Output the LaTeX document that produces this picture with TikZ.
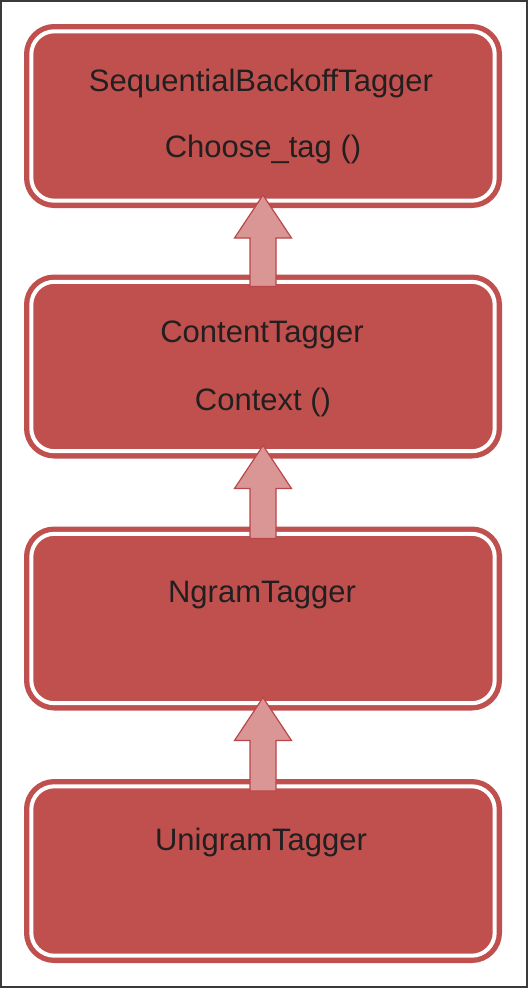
\documentclass[tikz,border=0pt]{standalone}
\usepackage{fontspec}
\setmainfont{Liberation Sans}
\usetikzlibrary{calc}
\definecolor{boxred}{HTML}{C0504D}
\definecolor{arrowpink}{HTML}{D99694}
\definecolor{arrowline}{HTML}{B9474A}
\definecolor{txt}{HTML}{231F20}
\definecolor{frame}{HTML}{3A3A3A}
\tikzset{
  box/.style={rectangle, rounded corners=23pt, fill=boxred, draw=white,
    line width=4pt, minimum width=463.4pt, minimum height=169.4pt,
    outer sep=7.3pt, inner sep=0pt,
    preaction={draw=boxred, line width=14.6pt}},
  label/.style={anchor=base, text=txt, inner sep=0pt,
    font=\fontsize{31}{37}\selectfont},
  fatarrow/.style={fill=arrowpink, draw=arrowline, line width=1.2pt, line join=miter}
}
\begin{document}
\begin{tikzpicture}[x=1pt, y=-1pt]
\useasboundingbox (0,0) rectangle (528,988);
\draw[frame, line width=1.5pt] (1,1) rectangle (527,987);
\node[box] (b1) at (263,116) {};
\node[box] (b2) at (263,366.5) {};
\node[box] (b3) at (263,618.5) {};
\node[box] (b4) at (263,871) {};
\node[label] (t1a) at (261,91) {SequentialBackoffTagger};
\node[label] (t1b) at (263,157) {Choose\_tag ()};
\node[label] (t2a) at (262,342) {ContentTagger};
\node[label] (t2b) at (263,410) {Context ()};
\node[label] (t3a) at (262,602) {NgramTagger};
\node[label] (t4a) at (261,850) {UnigramTagger};
\foreach \lo/\hi in {b2/b1, b3/b2, b4/b3}{
  \draw[fatarrow] ($(\lo.north)+(-13,12)$) -- ($(\hi.south)+(-13,30)$)
    -- ($(\hi.south)+(-28.5,30)$) -- ($(\hi.south)+(0,-13)$)
    -- ($(\hi.south)+(28.5,30)$) -- ($(\hi.south)+(13,30)$)
    -- ($(\lo.north)+(13,12)$) -- cycle;
}
\end{tikzpicture}
\end{document}
